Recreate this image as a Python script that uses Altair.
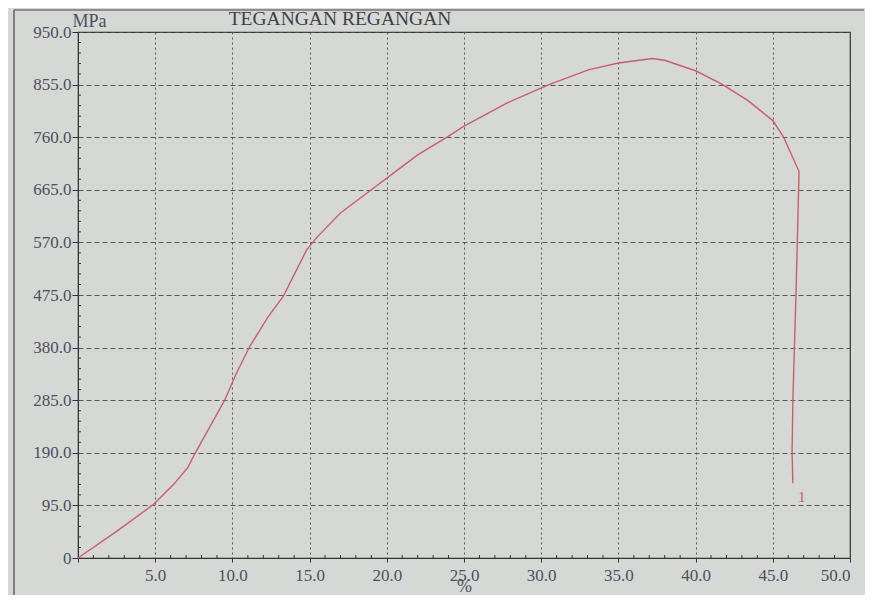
import altair as alt
import pandas as pd

# stress-strain curve
strain = [0, 2.5, 4.9, 6.2, 7.1, 7.6, 8.5, 9.5, 10.2, 11.1, 12.3, 13.3, 14.8, 15.5,
          17.0, 19.0, 20.0, 22.0, 23.9, 25.0, 27.8, 30.5, 33.1, 35.0, 37.2, 38.0,
          40.0, 41.7, 43.4, 45.0, 45.7, 46.7, 46.6, 46.5, 46.4, 46.3, 46.25, 46.3]
stress = [0, 48, 97, 133, 163, 190, 235, 285, 330, 381, 435, 473, 556, 580,
          623, 665, 686, 728, 760, 780, 822, 855, 882, 894, 902, 899,
          880, 856, 826, 790, 760, 698, 585, 475, 380, 285, 190, 135]

x_ticks = [0, 5, 10, 15, 20, 25, 30, 35, 40, 45, 50]
y_ticks = [0, 95, 190, 285, 380, 475, 570, 665, 760, 855, 950]
x_minor = [float(v) for v in range(1, 50) if v % 5 != 0]
y_minor = [float(v) for v in range(19, 950, 19) if v % 95 != 0]

curve_label = ["1"]
curve_label_x = [46.5]
curve_label_y = [110]

title_text = ["TEGANGAN REGANGAN"]

W, H = 772, 526
BG = "#d5d8d4"
INK = "#4d5060"
SERIF = "Liberation Serif"

df = pd.DataFrame({"strain": strain, "stress": stress, "idx": range(len(strain))})

xs = alt.Scale(domain=[0, 50], nice=False, zero=False)
ys = alt.Scale(domain=[0, 950], nice=False, zero=False)

line = alt.Chart(df).mark_line(color="#c95e72", strokeWidth=1.4).encode(
    x=alt.X("strain:Q", scale=xs, axis=alt.Axis(
        values=x_ticks, title="%",
        labelExpr="datum.value == 0 ? '' : format(datum.value, '.1f')",
        grid=True, gridDash=[2, 3], gridColor="#4a4a4a", gridOpacity=0.9,
        domainColor="#333", tickColor="#333", tickSize=4,
        labelFont=SERIF, labelFontSize=17, labelColor=INK, labelPadding=5,
        titleFont=SERIF, titleFontSize=18, titleFontWeight="normal", titleColor=INK,
        titleY=28, titleBaseline="middle")),
    y=alt.Y("stress:Q", scale=ys, axis=alt.Axis(
        values=y_ticks, title="MPa",
        labelExpr="datum.value == 0 ? '0' : format(datum.value, '.1f')",
        grid=True, gridDash=[5, 3], gridColor="#4a4a4a", gridOpacity=0.9,
        domainColor="#333", tickColor="#333", tickSize=6,
        labelFont=SERIF, labelFontSize=17, labelColor=INK, labelPadding=1,
        titleFont=SERIF, titleFontSize=18, titleFontWeight="normal", titleColor=INK,
        titleAngle=0, titleAlign="left", titleBaseline="alphabetic",
        titleX=-6, titleY=-6)),
    order="idx:Q",
)

lab = alt.Chart(pd.DataFrame({"t": curve_label, "x": curve_label_x, "y": curve_label_y})).mark_text(
    color="#c95e72", font=SERIF, fontSize=15, align="left", dx=2
).encode(x=alt.X("x:Q", scale=xs), y=alt.Y("y:Q", scale=ys), text="t:N")

title = alt.Chart(pd.DataFrame({"t": title_text})).mark_text(
    font=SERIF, fontSize=19.5, color="#3f4048", align="center", baseline="alphabetic"
).encode(x=alt.value(262), y=alt.value(-7), text="t:N")

xmin = alt.Chart(pd.DataFrame({"v": x_minor})).mark_rule(color="#333").encode(
    x=alt.X("v:Q", scale=xs), y=alt.value(H), y2=alt.value(H - 3))
ymin = alt.Chart(pd.DataFrame({"v": y_minor})).mark_rule(color="#333").encode(
    y=alt.Y("v:Q", scale=ys), x=alt.value(0), x2=alt.value(3))

one = pd.DataFrame({"a": [0]})
frame_top = alt.Chart(one).mark_rule(color="#444", strokeWidth=1.2).encode(
    x=alt.value(-64), x2=alt.value(W + 14), y=alt.value(-22))
frame_left = alt.Chart(one).mark_rule(color="#444", strokeWidth=1.2).encode(
    x=alt.value(-64), y=alt.value(-22), y2=alt.value(H + 45))

chart = alt.layer(frame_top, frame_left, line, xmin, ymin, lab, title).properties(
    width=W, height=H,
    autosize=alt.AutoSizeParams(type="none"),
    padding={"left": 70, "top": 24, "right": 15, "bottom": 37},
    background=BG,
).configure_view(stroke="#333", strokeWidth=1.2, fill=BG)

chart.save("out.html", embed_options={"renderer": "svg", "actions": False})
